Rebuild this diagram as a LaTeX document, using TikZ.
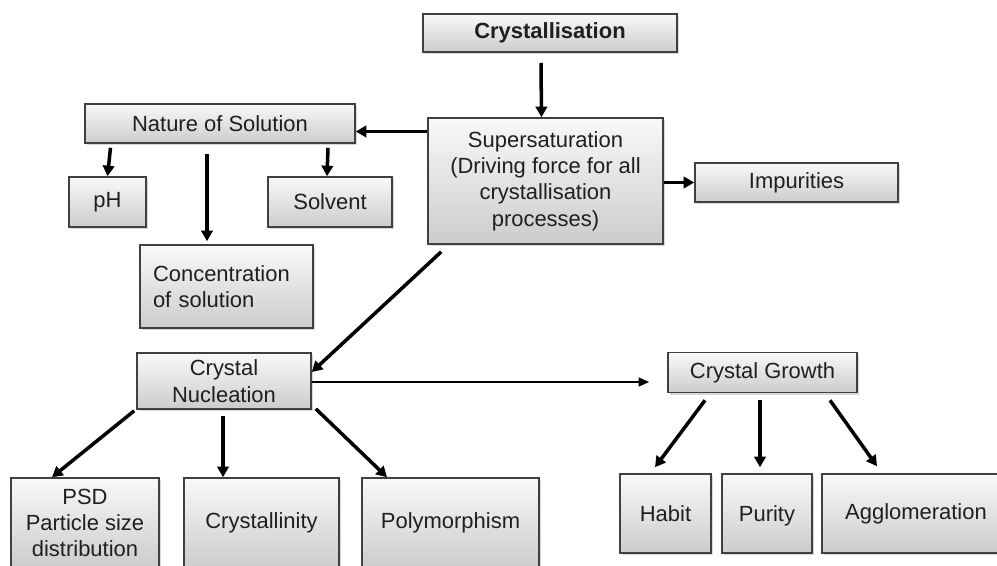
\documentclass[tikz,border=0pt]{standalone}
\usepackage{fontspec}
\setmainfont{Liberation Sans}
\usetikzlibrary{arrows.meta,shadows}

\begin{document}
\begin{tikzpicture}[
	x=0.02cm,y=-0.02cm,
	box/.style 2 args={rectangle,draw=black!75,line width=0.9pt,
		top color=gray!5,bottom color=gray!40,
		minimum width=#1*0.02cm,minimum height=#2*0.02cm,inner sep=0pt,
		align=center,text=black!88,font=\fontsize{12.5}{15}\selectfont,
		drop shadow={shadow xshift=1pt,shadow yshift=-1.2pt,fill=gray!50,opacity=0.6}},
	link/.style={-{Triangle[length=6pt,width=6.5pt]},line width=2pt},
	thinlink/.style={-{Triangle[length=6pt,width=5pt]},line width=1pt},
	]
	
	\fill[white] (0,0) rectangle (997,565);
	\clip (0,0) rectangle (997,565);
	
	% top part
	\node[box={254}{38}] (cryst) at (550,33) {\bfseries Crystallisation};
	\node[box={235}{126}] (super) at (545.5,181) {Supersaturation\\(Driving force for all\\crystallisation\\processes)};
	\node[box={270}{39}] (nature) at (220,123.5) {Nature of Solution};
	\node[box={203}{39}] (impur) at (796.5,182.5) {Impurities};
	\node[box={77}{50}] (ph) at (107.5,202) {pH};
	\node[box={124}{50}] (solvent) at (330,202) {Solvent};
	\node[box={173}{83},text width=2.94cm,inner xsep=0.26cm,align=left] (conc) at (226.5,286.5) {Concentration\\of solution};
	
	% nucleation and growth
	\node[box={174}{56}] (nucl) at (224,381) {Crystal\\Nucleation};
	\node[box={189}{40}] (growth) at (762.5,372.5) {Crystal Growth};
	
	\node[box={148}{90}] (psd) at (85,523) {PSD\\Particle size\\distribution};
	\node[box={155}{90}] (crystn) at (261.5,523) {Crystallinity};
	\node[box={177}{90}] (poly) at (450.5,523) {Polymorphism};
	
	\node[box={91}{79}] (habit) at (665.5,513.5) {Habit};
	\node[box={90}{79},text depth=0pt] (purity) at (767,513.5) {Purity};
	\node[box={188}{79}] (agglo) at (916,513.5) {Agglomeration};
	
	% connectors
	\draw[link] ([shift={(-9,10)}]cryst.south) -- ([shift={(-4,0)}]super.north);
	\draw[link] ([shift={(0,8)}]nature.east -| super.west) -- ([shift={(0,8)}]nature.east);
	\draw[link] (super.east |- impur.west) -- (impur.west);
	\draw[link] ([shift={(3,4)}]nature.south -| ph.north) -- (ph.north);
	\draw[link] ([shift={(-2,4)}]nature.south -| solvent.north) -- ([shift={(-3,0)}]solvent.north);
	\draw[link] ([shift={(-13,10)}]nature.south) -- ([shift={(-19.5,-3)}]conc.north);
	\draw[link] ([shift={(14,7)}]super.south west) -- ([shift={(0,-9)}]nucl.east);
	\draw[thinlink,shorten >=0.36cm] ([shift={(0,1)}]nucl.east) -- ([shift={(0,1)}]nucl.east -| growth.west);
	
	\draw[link] ([shift={(-2,1)}]nucl.south west) -- ([shift={(-33,0)}]psd.north);
	\draw[link] ([shift={(-1,6)}]nucl.south) -- ([shift={(-38.5,0)}]crystn.north);
	\draw[link] ([shift={(4,-1)}]nucl.south east) -- ([shift={(-63.5,0)}]poly.north);
	
	\draw[link] ([shift={(-57.5,7)}]growth.south) -- ([shift={(-10.5,-6)}]habit.north);
	\draw[link] ([shift={(-2.5,7)}]growth.south) -- ([shift={(-7,-6)}]purity.north);
	\draw[link] ([shift={(67.5,7)}]growth.south) -- ([shift={(-39,-7)}]agglo.north);

\end{tikzpicture}
\end{document}
